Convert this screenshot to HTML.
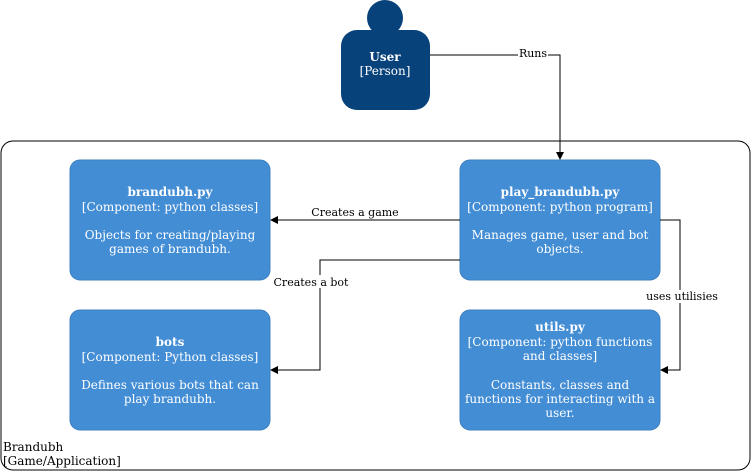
<!DOCTYPE html>
<html><head><style>body{margin:0;background:#fff}svg{display:block}</style></head><body>
<svg width="751" height="471" xmlns="http://www.w3.org/2000/svg" font-family="'DejaVu Serif', 'Liberation Serif', serif" font-size="12">
<defs><marker id="a" markerWidth="8" markerHeight="8" refX="7" refY="4" orient="auto" markerUnits="userSpaceOnUse"><path d="M0,0 L8,4 L0,8 z" fill="#000"/></marker></defs>
<rect x="1" y="141" width="749" height="329" rx="12" fill="none" stroke="#000" stroke-width="1"/>
<text x="3" y="451">Brandubh</text>
<text x="3" y="465">[Game/Application]</text>
<circle cx="385" cy="18" r="18" fill="#08427b"/>
<rect x="341" y="30" width="89" height="80" rx="16" fill="#08427b"/>
<text x="385" y="61" fill="#fff" text-anchor="middle" font-weight="bold">User</text>
<text x="385" y="75" fill="#fff" text-anchor="middle">[Person]</text>
<g fill="#438dd5" stroke="#3c7fc0">
<rect x="70" y="160" width="200" height="120" rx="10"/>
<rect x="460" y="160" width="200" height="120" rx="10"/>
<rect x="70" y="310" width="200" height="120" rx="10"/>
<rect x="460" y="310" width="200" height="120" rx="10"/>
</g>
<g fill="#fff" text-anchor="middle">
<text x="170" y="196" font-weight="bold">brandubh.py</text>
<text x="170" y="211">[Component: python classes]</text>
<text x="170" y="239">Objects for creating/playing</text>
<text x="170" y="253">games of brandubh.</text>
<text x="560" y="196" font-weight="bold">play_brandubh.py</text>
<text x="560" y="211">[Component: python program]</text>
<text x="560" y="239">Manages game, user and bot</text>
<text x="560" y="253">objects.</text>
<text x="170" y="346" font-weight="bold">bots</text>
<text x="170" y="361">[Component: Python classes]</text>
<text x="170" y="389">Defines various bots that can</text>
<text x="170" y="403">play brandubh.</text>
<text x="560" y="331" font-weight="bold">utils.py</text>
<text x="560" y="346">[Component: python functions</text>
<text x="560" y="360">and classes]</text>
<text x="560" y="389">Constants, classes and</text>
<text x="560" y="403">functions for interacting with a</text>
<text x="560" y="417">user.</text>
</g>
<g fill="none" stroke="#000" stroke-width="1">
<path d="M430,55 H560 V159" marker-end="url(#a)"/>
<path d="M460,220 H271" marker-end="url(#a)"/>
<path d="M460,260 H320 V370 H271" marker-end="url(#a)"/>
<path d="M660,220 H680 V370 H661" marker-end="url(#a)"/>
</g>
<g font-size="11" text-anchor="middle">
<rect x="518" y="47" width="30" height="12" fill="#fff"/>
<text x="533" y="57">Runs</text>
<text x="355" y="216">Creates a game</text>
<rect x="272" y="275" width="78" height="13" fill="#fff"/>
<text x="311" y="286">Creates a bot</text>
<rect x="645" y="290" width="75" height="13" fill="#fff"/>
<text x="682" y="300">uses utilisies</text>
</g>
</svg>
</body></html>
